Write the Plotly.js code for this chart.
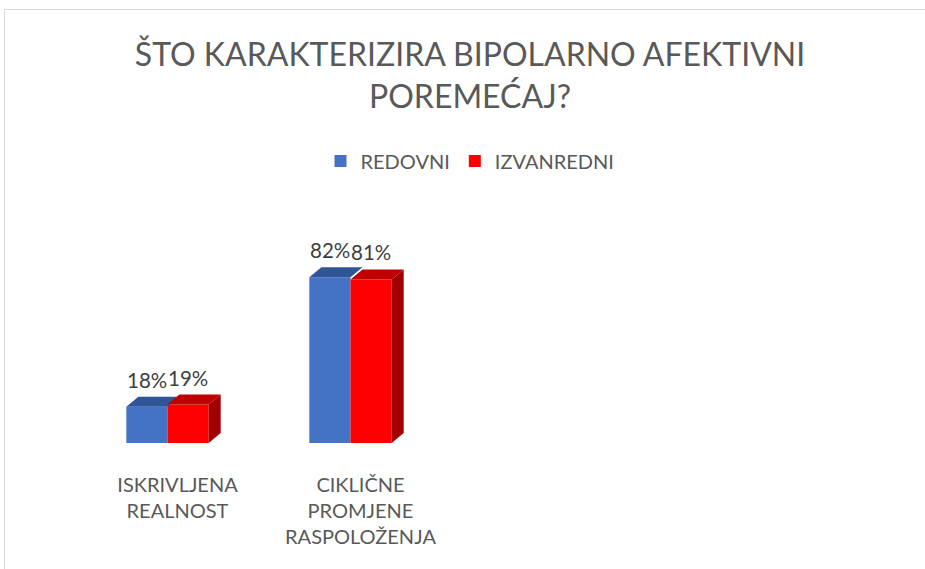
<!DOCTYPE html>
<html>
<head>
<meta charset="utf-8">
<script src="https://cdn.plot.ly/plotly-3.0.1.min.js"></script>
<style>
html,body{margin:0;padding:0;background:#fff;}
#wrap{position:relative;width:925px;height:569px;}
#chart{width:925px;height:569px;}
#frame{position:absolute;left:4px;top:9px;width:940px;height:580px;border-left:1px solid #D9D9D9;border-top:1px solid #D9D9D9;pointer-events:none;}
</style>
</head>
<body>
<div id="wrap"><div id="chart"></div><div id="frame"></div></div>
<script>
const categories = ["ISKRIVLJENA<br>REALNOST", "CIKLIČNE<br>PROMJENE<br>RASPOLOŽENJA"];
const seriesNames = ["REDOVNI", "IZVANREDNI"];
const redovni = [18, 82];
const izvanredni = [19, 81];
const valueLabels = [["18%", "82%"], ["19%", "81%"]];

const frontColors = ["#4472C4", "#FF0000"];
const topColors = ["#2F5597", "#C00000"];
const sideColors = ["#2F5597", "#A00000"];

const series = [redovni, izvanredni];
const font = "Lato, 'Open Sans', sans-serif";

const traces = series.map((vals, s) => ({
  type: "bar",
  name: seriesNames[s],
  x: categories,
  y: vals,
  marker: {color: frontColors[s], line: {width: 0}},
  hoverinfo: "skip"
}));

// geometry of grouped bars
const bargap = 0.55;
const barW = (1 - bargap) / 2;
const plotW = 925 - 76 - 117;
const plotH = 569 - 126 - 241;
const yMax = 100;
const dx = 12 / (plotW / 4);   // depth in category units
const dy = 10 / (plotH / yMax); // depth in value units

const shapes = [];
const annotations = [];
series.forEach((vals, s) => {
  vals.forEach((v, i) => {
    const x0 = i - barW + s * barW;
    const x1 = x0 + barW;
    // side face (only the last series' side is visible)
    if (s === series.length - 1) {
      shapes.push({type: "path", xref: "x", yref: "y", layer: "above",
        path: `M ${x1} 0 L ${x1} ${v} L ${x1 + dx} ${v + dy} L ${x1 + dx} ${dy} Z`,
        fillcolor: sideColors[s], line: {width: 0}});
    }
    // top face
    shapes.push({type: "path", xref: "x", yref: "y", layer: "above",
      path: `M ${x0} ${v} L ${x1} ${v} L ${x1 + dx} ${v + dy} L ${x0 + dx} ${v + dy} Z`,
      fillcolor: topColors[s], line: {width: 0}});
    annotations.push({x: (x0 + x1) / 2, y: v, xref: "x", yref: "y",
      text: valueLabels[s][i], showarrow: false, yanchor: "bottom", yshift: 13,
      font: {family: font, size: 20.5, color: "#404040"}});
  });
});

const layout = {
  width: 925, height: 569,
  margin: {l: 76, r: 117, t: 241, b: 126},
  paper_bgcolor: "#fff", plot_bgcolor: "#fff",
  title: {
    text: "ŠTO KARAKTERIZIRA BIPOLARNO AFEKTIVNI<br>POREMEĆAJ?",
    font: {family: font, size: 32, color: "#595959"},
    xref: "container", x: 470 / 925, xanchor: "center",
    yref: "container", y: 1 - 66 / 569, yanchor: "middle"
  },
  barmode: "group",
  bargap: bargap,
  bargroupgap: 0,
  showlegend: true,
  legend: {
    orientation: "h", xref: "container", yref: "container",
    x: 470 / 925, xanchor: "center", y: 1 - 161 / 569, yanchor: "middle",
    font: {family: font, size: 20, color: "#595959"},
    itemclick: false, itemdoubleclick: false
  },
  xaxis: {
    type: "category", range: [-0.5, 3.5], showgrid: false, zeroline: false,
    showline: false, ticks: "", ticklabelshift: 10, ticklabelstandoff: 28,
    tickfont: {family: font, size: 20, color: "#595959"}, fixedrange: true
  },
  yaxis: {
    range: [0, yMax], visible: false, showgrid: false, zeroline: false, fixedrange: true
  },
  shapes: shapes,
  annotations: annotations
};
Plotly.newPlot("chart", traces, layout, {displayModeBar: false, staticPlot: true});
</script>
</body>
</html>
